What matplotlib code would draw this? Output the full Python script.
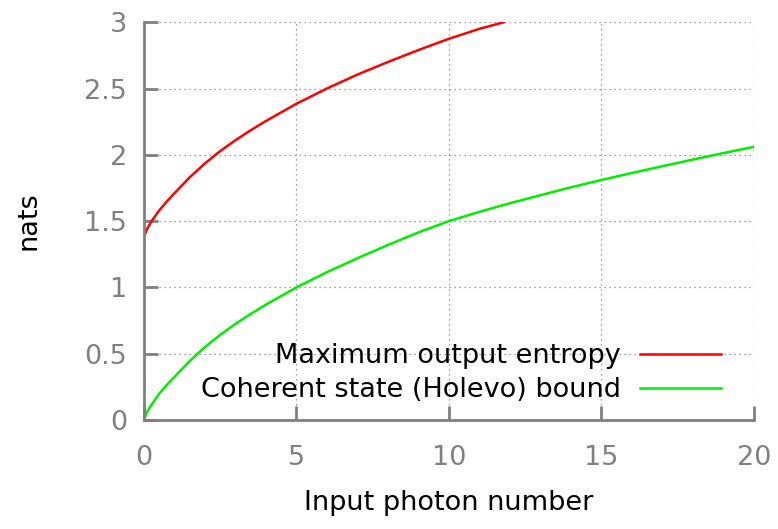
import matplotlib
matplotlib.use("Agg")
import matplotlib.pyplot as plt

# values
x_red = [0, 0.1, 0.25, 0.5, 0.75, 1, 1.5, 2, 2.5, 3, 3.5, 4, 4.5, 5, 6, 7, 8, 9,
         10, 11, 11.8]
y_red = [1.38, 1.44, 1.50, 1.58, 1.648, 1.71, 1.83, 1.935, 2.028, 2.11, 2.185,
         2.255, 2.32, 2.385, 2.50, 2.605, 2.70, 2.79, 2.875, 2.95, 3.0]

x_green = [0, 0.1, 0.25, 0.5, 0.75, 1, 1.5, 2, 2.5, 3, 3.5, 4, 4.5, 5, 6, 7, 8,
           9, 10, 11, 12, 13, 14, 15, 16, 17, 18, 19, 20]
y_green = [0, 0.06, 0.115, 0.198, 0.265, 0.325, 0.445, 0.55, 0.642, 0.725, 0.80,
           0.87, 0.935, 1.0, 1.115, 1.22, 1.32, 1.415, 1.5, 1.57, 1.635, 1.695,
           1.755, 1.81, 1.863, 1.914, 1.964, 2.013, 2.06]

xticks = [0, 5, 10, 15, 20]
yticks = [0, 0.5, 1, 1.5, 2, 2.5, 3]
ytick_labels = ["0", "0.5", "1", "1.5", "2", "2.5", "3"]

gray = "#808080"
fs = 19.5
plt.rcParams['font.family'] = ['DejaVu Sans']

fig = plt.figure(figsize=(7.78, 5.29), dpi=100)
ax = fig.add_axes([0.185, 0.206, 0.784, 0.752])

ax.plot(x_red, y_red, color="#ff0000", lw=1.8, label="Maximum output entropy")
ax.plot(x_green, y_green, color="#00ee00", lw=1.8, label="Coherent state (Holevo) bound")

ax.set_xlim(0, 20)
ax.set_ylim(0, 3)
ax.set_xticks(xticks)
ax.set_yticks(yticks)
ax.set_yticklabels(ytick_labels)
ax.grid(True, linestyle=(0, (1, 3)), color=gray, lw=0.9)

for s in ["top", "right"]:
    ax.spines[s].set_visible(False)
for s in ["left", "bottom"]:
    ax.spines[s].set_color(gray)
    ax.spines[s].set_linewidth(2)
ax.tick_params(direction="in", length=10, width=2, color=gray, labelcolor=gray,
               labelsize=fs, pad=12)
ax.tick_params(axis="x", pad=18)

ax.set_xlabel("Input photon number", fontsize=fs, labelpad=14)
ax.set_ylabel("nats", fontsize=fs, labelpad=31)

leg = ax.legend(loc="lower right", bbox_to_anchor=(0.964, 0.015), frameon=False,
                markerfirst=False, fontsize=fs, handlelength=3.0,
                handletextpad=0.7, labelspacing=0.3, borderaxespad=0)
for t in leg.get_texts():
    t.set_ha("right")

fig.savefig("out.png", dpi=100)
